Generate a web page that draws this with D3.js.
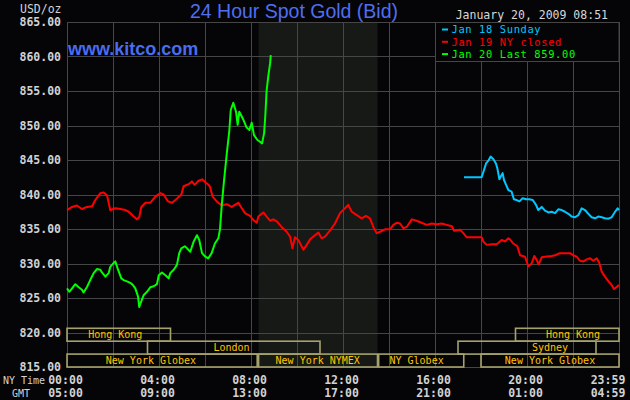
<!DOCTYPE html>
<html>
<head>
<meta charset="utf-8">
<script src="https://cdn.jsdelivr.net/npm/d3@7"></script>
<style>
  html, body { margin: 0; padding: 0; background: #050508; }
  svg { display: block; }
  text { font-family: "DejaVu Sans Mono", monospace; }
  text.sans { font-family: "Liberation Sans", Arial, sans-serif; }
</style>
</head>
<body>
<svg id="chart" width="630" height="400"></svg>
<script>
// 24 hour spot gold chart, 3 days overlaid on one NY-time axis

const yTickValues = [815, 820, 825, 830, 835, 840, 845, 850, 855, 860, 865];
const gridHours = [0, 2, 4, 6, 8, 10, 12, 14, 16, 18, 20, 22, 24];
const timeHours = [0, 4, 8, 12, 16, 20, 24];
const nyTimes = ["00:00", "04:00", "08:00", "12:00", "16:00", "20:00", "23:59"];
const gmtTimes = ["05:00", "09:00", "13:00", "17:00", "21:00", "01:00", "04:59"];

const nymexSession = [8.33, 13.5];

// [name, start hour, end hour, row, label hour]
const markets = [
  ["Hong Kong", 0, 4.5, 0, 2.1],
  ["Hong Kong", 19.5, 24, 0, 22.0],
  ["London", 3.5, 11, 1, 7.15],
  ["Sydney", 17, 23, 1, 21.0],
  ["New York Globex", 0, 8.27, 2, 3.65],
  ["New York NYMEX", 8.33, 13.5, 2, 10.9],
  ["NY Globex", 13.55, 17.25, 2, 15.2],
  ["New York Globex", 18, 24, 2, 21.0]
];

const legendLabels = ["Jan 18 Sunday", "Jan 19 NY closed", "Jan 20 Last 859.00"];
const legendColors = ["#00c8ff", "#ff0000", "#00ff00"];

// Jan 18 (Sunday evening)
const jan18 = [
  [17.26, 842.5], [18.03, 842.5], [18.13, 843.55], [18.22, 844.5], [18.32, 844.9],
  [18.42, 845.5], [18.54, 845.1], [18.65, 844.5], [18.71, 843.8], [18.80, 842.2],
  [18.86, 842.6], [18.94, 843.1], [19.00, 842.1], [19.09, 841.4], [19.19, 840.65],
  [19.33, 840.4], [19.43, 839.3], [19.55, 839.2], [19.67, 839.0], [19.81, 839.45],
  [19.96, 839.3], [20.10, 839.3], [20.25, 839.2], [20.39, 838.5], [20.49, 837.75],
  [20.64, 838.2], [20.78, 837.65], [20.93, 837.4], [21.07, 837.5], [21.22, 837.3],
  [21.36, 837.85], [21.51, 837.75], [21.65, 837.5], [21.80, 837.2], [21.94, 836.8],
  [22.09, 836.7], [22.23, 837.0], [22.38, 838.0], [22.52, 837.75], [22.67, 837.2],
  [22.81, 836.7], [22.96, 836.55], [23.10, 836.8], [23.25, 836.7], [23.39, 836.55],
  [23.54, 836.5], [23.68, 836.7], [23.83, 837.5], [23.94, 838.0], [24.00, 837.75]
];

// Jan 19 (NY closed)
const jan19 = [
  [0.00, 837.75], [0.22, 838.2], [0.43, 838.4], [0.65, 837.9], [0.87, 838.2],
  [1.09, 838.3], [1.23, 839.2], [1.45, 840.2], [1.59, 840.3], [1.74, 839.9],
  [1.88, 837.75], [2.10, 838.0], [2.32, 837.9], [2.54, 837.75], [2.68, 837.5],
  [2.90, 836.8], [3.04, 836.4], [3.14, 836.7], [3.23, 838.2], [3.41, 838.8],
  [3.62, 838.8], [3.84, 839.7], [4.06, 840.2], [4.20, 840.0], [4.39, 839.0],
  [4.57, 838.8], [4.78, 839.4], [4.97, 840.0], [5.07, 841.2], [5.29, 841.5],
  [5.43, 841.9], [5.55, 841.4], [5.72, 842.0], [5.87, 842.2], [6.04, 841.7],
  [6.16, 841.4], [6.22, 841.1], [6.33, 839.7], [6.51, 839.0], [6.73, 838.4],
  [6.94, 838.6], [7.16, 838.2], [7.30, 838.5], [7.45, 838.8], [7.60, 838.0],
  [7.74, 837.3], [7.96, 836.9], [8.10, 836.3], [8.25, 835.9], [8.32, 836.8],
  [8.54, 837.4], [8.68, 836.8], [8.83, 836.2], [8.97, 836.4], [9.12, 836.1],
  [9.33, 835.3], [9.55, 834.6], [9.70, 833.9], [9.80, 832.2], [9.91, 833.8],
  [10.06, 833.4], [10.28, 832.0], [10.42, 832.7], [10.57, 833.5], [10.78, 834.1],
  [10.93, 834.5], [11.07, 833.65], [11.22, 833.9], [11.43, 834.75], [11.65, 835.8],
  [11.87, 837.3], [12.09, 838.0], [12.23, 838.5], [12.38, 837.5], [12.60, 837.0],
  [12.81, 836.55], [13.00, 836.9], [13.17, 836.55], [13.32, 835.3], [13.46, 834.4],
  [13.61, 834.6], [13.83, 834.95], [14.04, 834.95], [14.19, 835.6], [14.33, 835.9],
  [14.48, 835.8], [14.62, 835.1], [14.77, 835.3], [14.99, 836.4], [15.20, 836.2],
  [15.42, 835.9], [15.64, 835.6], [15.86, 835.8], [16.07, 835.7], [16.29, 835.8],
  [16.51, 835.6], [16.73, 835.4], [16.83, 834.75], [17.09, 834.9], [17.23, 834.4],
  [17.38, 833.8], [17.67, 833.8], [18.03, 833.8], [18.10, 833.2], [18.25, 832.7],
  [18.46, 832.8], [18.68, 832.8], [18.90, 833.4], [19.04, 833.2], [19.19, 833.65],
  [19.26, 833.5], [19.40, 832.9], [19.58, 832.5], [19.70, 831.2], [19.91, 831.0],
  [20.06, 829.6], [20.20, 830.0], [20.32, 831.1], [20.42, 830.5], [20.51, 829.9],
  [20.64, 830.9], [20.86, 831.0], [21.07, 831.1], [21.22, 831.2], [21.43, 831.5],
  [21.65, 831.5], [21.87, 831.5], [22.01, 831.2], [22.16, 831.0], [22.30, 830.4],
  [22.45, 830.3], [22.60, 830.6], [22.74, 830.75], [22.88, 830.4], [23.03, 830.75],
  [23.14, 830.1], [23.25, 828.8], [23.39, 828.1], [23.54, 827.4], [23.68, 826.9],
  [23.78, 826.3], [23.90, 826.6], [24.00, 826.9]
];

// Jan 20 (today, up to 08:51)
const jan20 = [
  [0.00, 826.4], [0.10, 825.9], [0.22, 826.4], [0.36, 827.0], [0.51, 826.55],
  [0.65, 826.2], [0.72, 825.8], [0.87, 826.6], [1.01, 827.6], [1.16, 828.6],
  [1.30, 829.2], [1.45, 829.1], [1.52, 828.7], [1.67, 828.1], [1.81, 828.6],
  [1.88, 829.5], [2.03, 830.1], [2.10, 830.3], [2.22, 829.1], [2.36, 827.85],
  [2.46, 827.6], [2.61, 827.4], [2.75, 827.2], [2.86, 826.9], [2.97, 826.4],
  [3.09, 825.2], [3.14, 823.7], [3.23, 824.5], [3.33, 825.4], [3.48, 825.9],
  [3.62, 826.55], [3.77, 826.7], [3.91, 827.0], [3.99, 828.3], [4.13, 828.7],
  [4.28, 828.3], [4.42, 827.85], [4.49, 828.6], [4.64, 829.1], [4.78, 829.8],
  [4.88, 831.5], [4.97, 832.2], [5.12, 832.5], [5.22, 832.2], [5.36, 831.7],
  [5.51, 833.2], [5.65, 834.1], [5.75, 833.4], [5.87, 831.5], [6.01, 831.0],
  [6.14, 830.75], [6.29, 831.5], [6.43, 832.9], [6.58, 833.65], [6.65, 834.9],
  [6.73, 838.5], [6.83, 842.1], [6.94, 845.7], [7.06, 849.35], [7.12, 852.25],
  [7.23, 853.3], [7.35, 852.0], [7.42, 850.1], [7.49, 852.0], [7.60, 851.3],
  [7.67, 850.8], [7.81, 849.7], [7.93, 849.35], [8.03, 850.4], [8.13, 848.6],
  [8.28, 847.9], [8.39, 847.65], [8.48, 847.4], [8.57, 848.9], [8.62, 851.3],
  [8.68, 855.1], [8.75, 857.1], [8.83, 859.0], [8.86, 860.2]
];

const svg = d3.select("#chart");
const plotLeft = 67, plotRight = 619, plotTop = 22, plotBottom = 367;
const rowH = 12.9;

const x = d3.scaleLinear().domain([0, 24]).range([plotLeft, plotRight]);
const y = d3.scaleLinear().domain([815, 865]).range([plotBottom, plotTop]);
const px = v => Math.round(v) + 0.5;

svg.append("rect")
  .attr("width", 630).attr("height", 400)
  .attr("fill", "#050508");

// NYMEX open session shading
svg.append("rect")
  .attr("x", x(nymexSession[0]))
  .attr("y", plotTop)
  .attr("width", x(nymexSession[1]) - x(nymexSession[0]))
  .attr("height", plotBottom - plotTop)
  .attr("fill", "#161915");

// grid
const grid = svg.append("g").attr("stroke", "#464646").attr("stroke-width", 1);
grid.selectAll("line.h")
  .data(yTickValues)
  .join("line")
  .attr("class", "h")
  .attr("x1", plotLeft).attr("x2", plotRight)
  .attr("y1", d => px(y(d))).attr("y2", d => px(y(d)));
grid.selectAll("line.v")
  .data(gridHours)
  .join("line")
  .attr("class", "v")
  .attr("x1", d => px(x(d))).attr("x2", d => px(x(d)))
  .attr("y1", plotTop).attr("y2", plotBottom);

// market session boxes
const rowTop = r => plotBottom - (3 - r) * rowH;
const bands = svg.append("g");
bands.selectAll("rect")
  .data(markets)
  .join("rect")
  .attr("x", d => x(d[1]))
  .attr("y", d => rowTop(d[3]))
  .attr("width", d => x(d[2]) - x(d[1]))
  .attr("height", rowH)
  .attr("fill", "none")
  .attr("stroke", "#a6a26c")
  .attr("stroke-width", 1.6);
bands.selectAll("text")
  .data(markets)
  .join("text")
  .attr("x", d => x(d[4]))
  .attr("y", d => rowTop(d[3]) + rowH / 2 + 3.6)
  .attr("text-anchor", "middle")
  .attr("font-size", 10)
  .attr("fill", "#ffc400")
  .text(d => d[0]);

// price lines
const line = d3.line().x(d => x(d[0])).y(d => y(d[1]));
[[jan18, legendColors[0]], [jan19, legendColors[1]], [jan20, legendColors[2]]].forEach(([data, color]) => {
  svg.append("path")
    .datum(data)
    .attr("d", line)
    .attr("fill", "none")
    .attr("stroke", color)
    .attr("stroke-width", 2)
    .attr("stroke-linejoin", "round");
});

// legend box
const legend = svg.append("g");
legend.append("rect")
  .attr("x", 435.5).attr("y", plotTop + 0.5)
  .attr("width", plotRight - 435.5).attr("height", 39)
  .attr("fill", "#050508")
  .attr("stroke", "#464646");
legendLabels.forEach((label, i) => {
  const ly = 29.5 + i * 12.3;
  legend.append("line")
    .attr("x1", 442).attr("x2", 448)
    .attr("y1", ly).attr("y2", ly)
    .attr("stroke", legendColors[i])
    .attr("stroke-width", 2);
  legend.append("text")
    .attr("x", 451.5).attr("y", ly + 3.8)
    .attr("font-size", 10.4)
    .attr("letter-spacing", 0.65)
    .attr("fill", legendColors[i])
    .text(label);
});

// y labels
svg.append("g").selectAll("text")
  .data(yTickValues)
  .join("text")
  .attr("x", 61)
  .attr("y", d => y(d) + 4.3)
  .attr("text-anchor", "end")
  .attr("font-size", 11.5)
  .attr("font-weight", "bold")
  .attr("fill", "#d2d2d2")
  .text(d => d.toFixed(2));

svg.append("text")
  .attr("x", 20).attr("y", 12.5)
  .attr("font-size", 11.5)
  .attr("fill", "#d2d2d2")
  .text("USD/oz");

// time labels
const timeX = h => Math.min(x(h) - 1.5, 608);
svg.append("g").selectAll("text")
  .data(timeHours)
  .join("text")
  .attr("x", timeX)
  .attr("y", 383.5)
  .attr("text-anchor", "middle")
  .attr("font-size", 11.5)
  .attr("font-weight", "bold")
  .attr("fill", "#d2d2d2")
  .text((d, i) => nyTimes[i]);
svg.append("g").selectAll("text")
  .data(timeHours)
  .join("text")
  .attr("x", timeX)
  .attr("y", 397)
  .attr("text-anchor", "middle")
  .attr("font-size", 11.5)
  .attr("font-weight", "bold")
  .attr("fill", "#d2d2d2")
  .text((d, i) => gmtTimes[i]);

svg.append("text")
  .attr("x", 3).attr("y", 384)
  .attr("font-size", 10)
  .attr("fill", "#d2d2d2")
  .text("NY Time");
svg.append("text")
  .attr("x", 12).attr("y", 397)
  .attr("font-size", 10)
  .attr("fill", "#d2d2d2")
  .text("GMT");

// titles
svg.append("text")
  .attr("class", "sans")
  .attr("x", 294).attr("y", 17.5)
  .attr("text-anchor", "middle")
  .attr("font-size", 19.5)
  .attr("fill", "#4f6ef0")
  .text("24 Hour Spot Gold (Bid)");

svg.append("text")
  .attr("class", "sans")
  .attr("x", 68).attr("y", 55)
  .attr("font-weight", "bold")
  .attr("font-size", 18)
  .attr("fill", "#4a6cf0")
  .text("www.kitco.com");

svg.append("text")
  .attr("x", 608).attr("y", 18.5)
  .attr("text-anchor", "end")
  .attr("font-size", 11.5)
  .attr("fill", "#d8d8d8")
  .text("January 20, 2009 08:51");
</script>
</body>
</html>
